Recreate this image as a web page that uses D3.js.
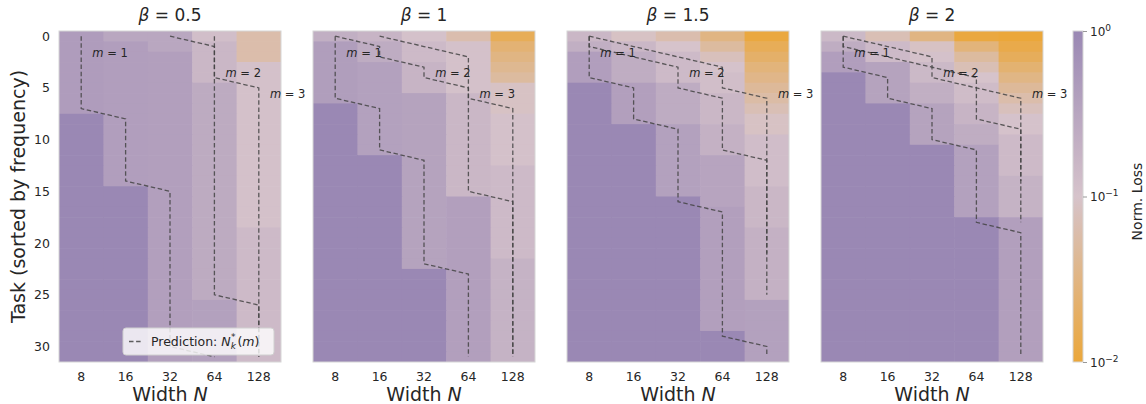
<!DOCTYPE html>
<html>
<head>
<meta charset="utf-8">
<script src="https://cdn.jsdelivr.net/npm/d3@7"></script>
<style>
  body { margin: 0; background: #fff; }
  svg text { font-family: "DejaVu Sans", sans-serif; fill: #262626; }
</style>
</head>
<body>
<div id="chart"></div>
<script>
// widths on the x axis, task ticks, colorbar ticks
const widths = [8, 16, 32, 64, 128];
const betaLabels = ["0.5", "1", "1.5", "2"];
const taskTicks = [0, 5, 10, 15, 20, 25, 30];
const cbarTicks = [1, 0.1, 0.01];
const cbarExps = ["0", "\u22121", "\u22122"];
const mValues = [1, 2, 3];

// normalised loss, one row per task (0..31), columns = widths
const lossBeta05 = [
  [0.45, 0.30, 0.30, 0.12, 0.060],
  [0.45, 0.42, 0.30, 0.16, 0.060],
  [0.45, 0.42, 0.40, 0.16, 0.060],
  [0.45, 0.42, 0.40, 0.16, 0.11],
  [0.45, 0.42, 0.40, 0.16, 0.11],
  [0.45, 0.42, 0.40, 0.26, 0.11],
  [0.45, 0.42, 0.40, 0.26, 0.11],
  [0.45, 0.42, 0.40, 0.26, 0.11],
  [1, 0.42, 0.40, 0.26, 0.11],
  [1, 0.42, 0.40, 0.26, 0.11],
  [1, 0.42, 0.40, 0.26, 0.11],
  [1, 0.42, 0.40, 0.26, 0.11],
  [1, 0.42, 0.40, 0.26, 0.11],
  [1, 0.42, 0.40, 0.26, 0.11],
  [1, 0.42, 0.40, 0.26, 0.11],
  [1, 1, 0.40, 0.26, 0.11],
  [1, 1, 0.40, 0.26, 0.11],
  [1, 1, 0.40, 0.26, 0.11],
  [1, 1, 0.40, 0.26, 0.11],
  [1, 1, 0.40, 0.26, 0.14],
  [1, 1, 0.40, 0.26, 0.14],
  [1, 1, 0.40, 0.26, 0.14],
  [1, 1, 0.40, 0.26, 0.14],
  [1, 1, 0.40, 0.26, 0.14],
  [1, 1, 0.40, 0.26, 0.14],
  [1, 1, 0.40, 0.26, 0.14],
  [1, 1, 0.40, 0.38, 0.14],
  [1, 1, 0.40, 0.38, 0.14],
  [1, 1, 0.40, 0.38, 0.14],
  [1, 1, 0.40, 0.38, 0.14],
  [1, 1, 0.40, 0.38, 0.14],
  [1, 1, 0.40, 0.38, 0.14]
];

const lossBeta1 = [
  [0.22, 0.18, 0.11, 0.063, 0.016],
  [0.43, 0.25, 0.14, 0.11, 0.025],
  [0.43, 0.25, 0.14, 0.11, 0.032],
  [0.43, 0.38, 0.18, 0.11, 0.040],
  [0.43, 0.38, 0.18, 0.11, 0.050],
  [0.43, 0.38, 0.18, 0.11, 0.089],
  [0.43, 0.38, 0.35, 0.16, 0.089],
  [1, 0.38, 0.35, 0.16, 0.089],
  [1, 0.38, 0.35, 0.16, 0.11],
  [1, 0.38, 0.35, 0.16, 0.11],
  [1, 0.38, 0.35, 0.16, 0.11],
  [1, 0.38, 0.35, 0.16, 0.11],
  [1, 1, 0.35, 0.16, 0.11],
  [1, 1, 0.35, 0.16, 0.14],
  [1, 1, 0.35, 0.16, 0.14],
  [1, 1, 0.35, 0.16, 0.14],
  [1, 1, 0.35, 0.40, 0.14],
  [1, 1, 0.35, 0.40, 0.14],
  [1, 1, 0.35, 0.40, 0.14],
  [1, 1, 0.35, 0.40, 0.14],
  [1, 1, 0.35, 0.40, 0.14],
  [1, 1, 0.35, 0.40, 0.14],
  [1, 1, 0.35, 0.40, 0.19],
  [1, 1, 1, 0.40, 0.19],
  [1, 1, 1, 0.40, 0.19],
  [1, 1, 1, 0.40, 0.19],
  [1, 1, 1, 0.40, 0.19],
  [1, 1, 1, 0.40, 0.19],
  [1, 1, 1, 0.40, 0.19],
  [1, 1, 1, 0.40, 0.19],
  [1, 1, 1, 0.40, 0.19],
  [1, 1, 1, 0.40, 0.19]
];

const lossBeta15 = [
  [0.16, 0.089, 0.063, 0.032, 0.011],
  [0.22, 0.16, 0.10, 0.050, 0.016],
  [0.42, 0.24, 0.14, 0.079, 0.021],
  [0.42, 0.24, 0.14, 0.105, 0.028],
  [0.42, 0.24, 0.14, 0.12, 0.035],
  [1, 0.40, 0.25, 0.12, 0.045],
  [1, 0.40, 0.25, 0.16, 0.056],
  [1, 0.40, 0.25, 0.16, 0.071],
  [1, 0.40, 0.25, 0.16, 0.089],
  [1, 1, 0.38, 0.20, 0.089],
  [1, 1, 0.38, 0.20, 0.126],
  [1, 1, 0.38, 0.20, 0.126],
  [1, 1, 0.38, 0.33, 0.126],
  [1, 1, 0.38, 0.33, 0.126],
  [1, 1, 0.38, 0.33, 0.126],
  [1, 1, 0.38, 0.33, 0.16],
  [1, 1, 1, 0.33, 0.16],
  [1, 1, 1, 0.40, 0.16],
  [1, 1, 1, 0.40, 0.16],
  [1, 1, 1, 0.40, 0.20],
  [1, 1, 1, 0.40, 0.20],
  [1, 1, 1, 0.40, 0.20],
  [1, 1, 1, 0.40, 0.20],
  [1, 1, 1, 0.40, 0.20],
  [1, 1, 1, 0.40, 0.20],
  [1, 1, 1, 0.40, 0.20],
  [1, 1, 1, 0.40, 0.38],
  [1, 1, 1, 0.40, 0.38],
  [1, 1, 1, 0.40, 0.38],
  [1, 1, 1, 1, 0.38],
  [1, 1, 1, 1, 0.38],
  [1, 1, 1, 1, 0.38]
];

const lossBeta2 = [
  [0.15, 0.071, 0.032, 0.011, 0.010],
  [0.24, 0.14, 0.089, 0.028, 0.013],
  [0.42, 0.14, 0.11, 0.050, 0.017],
  [0.42, 0.35, 0.15, 0.071, 0.024],
  [1, 0.35, 0.15, 0.10, 0.033],
  [1, 0.35, 0.22, 0.13, 0.045],
  [1, 0.35, 0.22, 0.13, 0.060],
  [1, 1, 0.35, 0.18, 0.079],
  [1, 1, 0.35, 0.18, 0.105],
  [1, 1, 0.35, 0.24, 0.105],
  [1, 1, 0.35, 0.24, 0.14],
  [1, 1, 1, 0.38, 0.14],
  [1, 1, 1, 0.38, 0.14],
  [1, 1, 1, 0.38, 0.14],
  [1, 1, 1, 0.38, 0.19],
  [1, 1, 1, 0.38, 0.19],
  [1, 1, 1, 0.38, 0.19],
  [1, 1, 1, 0.38, 0.19],
  [1, 1, 1, 1, 0.40],
  [1, 1, 1, 1, 0.40],
  [1, 1, 1, 1, 0.40],
  [1, 1, 1, 1, 0.40],
  [1, 1, 1, 1, 0.40],
  [1, 1, 1, 1, 0.40],
  [1, 1, 1, 1, 0.40],
  [1, 1, 1, 1, 0.40],
  [1, 1, 1, 1, 0.40],
  [1, 1, 1, 1, 0.40],
  [1, 1, 1, 1, 0.40],
  [1, 1, 1, 1, 0.40],
  [1, 1, 1, 1, 0.40],
  [1, 1, 1, 1, 0.40]
];

// predicted width N_k*(m) per task, for m = 1, 2, 3 (null = beyond 128)
const predBeta05 = [
  [8,8,8,8,8,8,8,8,16,16,16,16,16,16,16,32,32,32,32,32,32,32,32,32,32,32,32,32,32,32,32,64],
  [32,64,64,64,64,64,64,64,64,64,64,64,64,64,64,64,64,64,64,64,64,64,64,64,64,64,128,128,128,128,128,128],
  [64,64,64,64,64,128,128,128,128,128,128,128,128,128,128,128,128,128,128,128,128,128,128,128,128,128,128,128,128,128,128,128]
];
const predBeta1 = [
  [8,8,8,8,8,8,8,16,16,16,16,16,32,32,32,32,32,32,32,32,32,32,32,64,64,64,64,64,64,64,64,64],
  [8,16,16,32,32,64,64,64,64,64,64,64,64,64,64,64,128,128,128,128,128,128,128,128,128,128,128,128,128,128,128,128],
  [16,32,64,64,64,64,64,128,128,128,128,128,128,128,128,128,128,128,128,128,128,128,128,128,128,128,128,128,128,128,128,128]
];
const predBeta15 = [
  [8,8,8,8,8,16,16,16,16,32,32,32,32,32,32,32,32,64,64,64,64,64,64,64,64,64,64,64,64,64,128,128],
  [8,8,16,32,32,32,64,64,64,64,64,64,128,128,128,128,128,128,128,128,128,128,128,128,128,128,null,null,null,null,null,null],
  [8,16,32,64,64,64,128,128,128,128,128,128,128,128,128,128,128,128,128,128,128,128,null,null,null,null,null,null,null,null,null,null]
];
const predBeta2 = [
  [8,8,8,8,16,16,16,32,32,32,32,64,64,64,64,64,64,64,64,128,128,128,128,128,128,128,128,128,128,128,128,128],
  [8,8,16,32,64,64,64,64,64,128,128,128,128,128,128,128,128,128,128,null,null,null,null,null,null,null,null,null,null,null,null,null],
  [8,16,32,32,32,64,128,128,128,128,128,128,128,128,128,null,null,null,null,null,null,null,null,null,null,null,null,null,null,null,null,null]
];

// where the "m = ..." annotations sit (width column, task row)
const labelWidths = [[8, 64, 128], [8, 32, 64], [8, 32, 128], [8, 32, 128]];
const labelTasks = [1.6, 3.6, 5.6];

const panels = [
  { beta: betaLabels[0], loss: lossBeta05, pred: predBeta05, labels: labelWidths[0] },
  { beta: betaLabels[1], loss: lossBeta1, pred: predBeta1, labels: labelWidths[1] },
  { beta: betaLabels[2], loss: lossBeta15, pred: predBeta15, labels: labelWidths[2] },
  { beta: betaLabels[3], loss: lossBeta2, pred: predBeta2, labels: labelWidths[3] }
];

drawFigure("#chart");

function drawFigure(sel) {
  var width = 1146, height = 404;
  var panelLeft = 59, panelStep = 254, panelW = 222;
  var top = 31, panelH = 331;
  var nTasks = lossBeta05.length;

  var svg = d3.select(sel).append("svg")
    .attr("width", width)
    .attr("height", height);

  var xScale = d3.scaleBand().domain(widths).range([0, panelW]);
  var yScale = d3.scaleBand().domain(d3.range(nTasks)).range([0, panelH]);
  var yRow = d3.scaleLinear().domain([-0.5, nTasks - 0.5]).range([0, panelH]);
  var bw = xScale.bandwidth(), bh = yScale.bandwidth();

  // orange (low loss) -> pale pink -> purple (high loss), log scale
  var color = d3.scaleLog()
    .domain([0.01, 0.1, 1])
    .range(["#eba73a", "#d6c3cb", "#9a88b4"])
    .clamp(true);

  var line = d3.line()
    .defined(d => d != null)
    .x(d => xScale(d) + bw / 2)
    .y((d, i) => yScale(i) + bh / 2);

  panels.forEach(function(p, pi) {
    var g = svg.append("g")
      .attr("transform", "translate(" + (panelLeft + pi * panelStep) + "," + top + ")");

    var cells = [];
    p.loss.forEach(function(row, k) {
      row.forEach(function(v, j) { cells.push({ k: k, n: widths[j], v: v }); });
    });

    g.selectAll("rect.cell")
      .data(cells)
      .enter()
      .append("rect")
      .attr("class", "cell")
      .attr("x", d => xScale(d.n))
      .attr("y", d => yScale(d.k))
      .attr("width", d => d.n === widths[widths.length - 1] ? bw : bw + 0.6)
      .attr("height", d => d.k === nTasks - 1 ? bh : bh + 0.6)
      .attr("fill", d => color(d.v));

    g.append("rect")
      .attr("width", panelW)
      .attr("height", panelH)
      .attr("fill", "none")
      .attr("stroke", "#d6d6d6")
      .attr("stroke-width", 1);

    // predicted N_k*(m)
    g.selectAll("path.pred")
      .data(p.pred)
      .enter()
      .append("path")
      .attr("class", "pred")
      .attr("d", line)
      .attr("fill", "none")
      .attr("stroke", "#444")
      .attr("stroke-opacity", 0.85)
      .attr("stroke-width", 1.3)
      .attr("stroke-dasharray", "4.5,2.6");

    // m = 1, 2, 3 annotations
    var lab = g.selectAll("text.mlab")
      .data(mValues)
      .enter()
      .append("text")
      .attr("class", "mlab")
      .attr("x", (m, i) => xScale(p.labels[i]) + bw * 1.15)
      .attr("y", (m, i) => yRow(labelTasks[i]))
      .attr("text-anchor", "middle")
      .attr("dominant-baseline", "central")
      .style("font-size", "11.5px");
    lab.append("tspan").style("font-style", "italic").text("m");
    lab.append("tspan").text(m => " = " + m);

    // title
    var title = g.append("text")
      .attr("x", panelW / 2)
      .attr("y", -10)
      .attr("text-anchor", "middle")
      .style("font-size", "17px");
    title.append("tspan").style("font-style", "italic").text("\u03b2");
    title.append("tspan").text(" = " + p.beta);

    // x tick labels
    g.selectAll("text.xtick")
      .data(widths)
      .enter()
      .append("text")
      .attr("class", "xtick")
      .attr("x", d => xScale(d) + bw / 2)
      .attr("y", panelH + 14)
      .attr("text-anchor", "middle")
      .attr("dominant-baseline", "central")
      .style("font-size", "12.5px")
      .text(d => d);

    var xl = g.append("text")
      .attr("x", panelW / 2)
      .attr("y", panelH + 39)
      .attr("text-anchor", "middle")
      .style("font-size", "19px");
    xl.append("tspan").text("Width ");
    xl.append("tspan").style("font-style", "italic").text("N");

    if (pi === 0) {
      g.selectAll("text.ytick")
        .data(taskTicks)
        .enter()
        .append("text")
        .attr("class", "ytick")
        .attr("x", -9)
        .attr("y", d => yScale(d) + bh / 2)
        .attr("text-anchor", "end")
        .attr("dominant-baseline", "central")
        .style("font-size", "12.5px")
        .text(d => d);

      g.append("text")
        .attr("transform", "translate(" + (25 - panelLeft) + "," + (panelH / 2) + ") rotate(-90)")
        .attr("text-anchor", "middle")
        .style("font-size", "19px")
        .text("Task (sorted by frequency)");

      // legend
      var lg = g.append("g").attr("transform", "translate(" + (panelW - 158) + "," + (panelH - 34) + ")");
      lg.append("rect")
        .attr("width", 151)
        .attr("height", 27)
        .attr("rx", 3)
        .attr("fill", "#fff")
        .attr("fill-opacity", 0.8)
        .attr("stroke", "#d0d0d0");
      lg.append("line")
        .attr("x1", 6).attr("x2", 20)
        .attr("y1", 13.5).attr("y2", 13.5)
        .attr("stroke", "#444")
        .attr("stroke-opacity", 0.85)
        .attr("stroke-width", 1.3)
        .attr("stroke-dasharray", "4.5,2.6");
      var lt = lg.append("text")
        .attr("x", 28)
        .attr("y", 18)
        .style("font-size", "12.5px");
      lt.append("tspan").text("Prediction: ");
      lt.append("tspan").style("font-style", "italic").text("N");
      lt.append("tspan").style("font-style", "italic").style("font-size", "9px").attr("dy", 3).text("k");
      lt.append("tspan").style("font-size", "9px").attr("dx", -5).attr("dy", -9).text("*");
      lt.append("tspan").attr("dx", 2).attr("dy", 6).text("(");
      lt.append("tspan").style("font-style", "italic").text("m");
      lt.append("tspan").text(")");
    }
  });

  // colorbar
  var cbX = 1073, cbW = 10;
  var cScale = d3.scaleLog().domain([0.01, 1]).range([top + panelH, top]);
  var grad = svg.append("defs").append("linearGradient")
    .attr("id", "cbar")
    .attr("x1", 0).attr("y1", 1).attr("x2", 0).attr("y2", 0);
  d3.range(0, 1.0001, 0.05).forEach(function(t) {
    grad.append("stop")
      .attr("offset", t)
      .attr("stop-color", color(Math.pow(10, -2 + 2 * t)));
  });
  svg.append("rect")
    .attr("x", cbX).attr("y", top)
    .attr("width", cbW).attr("height", panelH)
    .attr("fill", "url(#cbar)")
    .attr("stroke", "#d6d6d6");

  var cAxis = svg.append("g")
    .attr("transform", "translate(" + (cbX + cbW) + ",0)")
    .call(d3.axisRight(cScale).tickValues(cbarTicks).tickSize(4).tickFormat(""));
  cAxis.select(".domain").remove();
  cAxis.selectAll(".tick line").attr("stroke", "#999");
  cAxis.selectAll(".tick").each(function(d, i) {
    var t = d3.select(this).append("text")
      .attr("x", 7)
      .attr("dy", "0.35em")
      .style("font-size", "12px");
    t.append("tspan").text("10");
    t.append("tspan").attr("dy", -5).style("font-size", "9px").text(cbarExps[i]);
  });

  svg.append("text")
    .attr("transform", "translate(1142," + (top + panelH / 2 + 5) + ") rotate(-90)")
    .attr("text-anchor", "middle")
    .style("font-size", "14px")
    .text("Norm. Loss");
}
</script>
</body>
</html>
